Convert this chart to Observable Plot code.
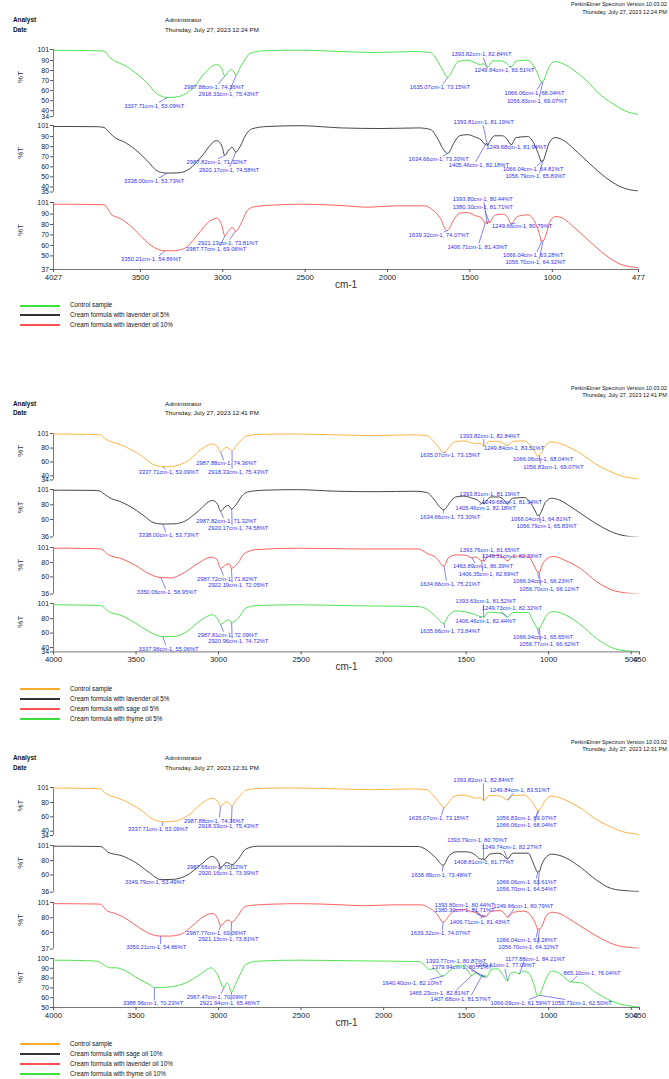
<!DOCTYPE html>
<html><head><meta charset="utf-8">
<script src="https://cdn.jsdelivr.net/npm/d3@7"></script>
<script src="https://cdn.jsdelivr.net/npm/@observablehq/plot@0.6"></script>
<style>
body{margin:0;background:#fff;}
#page{position:relative;width:669px;height:1079px;overflow:hidden;font-family:"Liberation Sans",Arial,sans-serif;color:#111;background:#fff;}
.t{position:absolute;white-space:nowrap;line-height:1;}
.pan{position:absolute;left:0;}
.lg{position:absolute;height:2px;}
</style></head><body><div id="page"></div>
<script>
// ================= DATA (wavenumber cm-1, %T) =================
const controlSample = [[4027,100.2],[3900,100.1],[3780,99.8],[3720,99.3],[3685,93],[3650,89],[3602,85.7],[3532,78],[3461,68],[3402,57.2],[3366,54],[3337.71,53.09],[3296,53.4],[3237,55.9],[3178,63],[3107,78],[3036,86],[3005,81.5],[2987.88,74.36],[2965,79.5],[2947,81],[2918.33,75.43],[2895,83],[2859,92.4],[2836,97],[2753,99.7],[2541,100.3],[2400,99.8],[2281,99],[2069,98],[1833,99],[1739,98],[1704,91.4],[1668,81.4],[1635.07,73.15],[1602,81.4],[1574,88.7],[1515,90.4],[1479,88.5],[1437,86],[1415,87],[1393.82,82.84],[1361,89.7],[1314,89.7],[1280,87.5],[1249.84,83.51],[1220,89.5],[1149,90.4],[1114,84.7],[1083,74.8],[1066.06,68.04],[1060,69.5],[1056.83,69.07],[1045,73],[1026,81.4],[984,89],[937,87],[866,79.8],[795,70.5],[724,58.2],[630,46.6],[536,38.3],[477,36.2],[450,35]];
const lavender5 = [[4027,100],[3900,100],[3760,99.8],[3720,99],[3685,93.5],[3650,88.5],[3602,85],[3532,77.3],[3461,66.5],[3390,55.3],[3338.00,53.73],[3272,54],[3201,58],[3131,69.9],[3036,86],[3005,80.5],[2987.82,71.32],[2962,77],[2942,79.3],[2920.17,74.58],[2895,80],[2859,92],[2824,97.6],[2730,100],[2517,100.8],[2400,99.8],[2281,98.6],[2045,98],[1810,98.6],[1739,97],[1692,86.8],[1660,77],[1634.66,73.30],[1598,83.4],[1563,90.8],[1515,91.9],[1468,89.5],[1433,86.8],[1405.46,82.18],[1400,83.5],[1393.81,81.19],[1380,85],[1350,90.8],[1303,90.8],[1275,87.5],[1249.68,81.94],[1220,89],[1149,90],[1107,81.7],[1078,69.9],[1066.04,64.81],[1061,66.5],[1056.79,65.83],[1043,71.6],[1020,83.4],[984,89],[937,86.8],[866,77.3],[772,63],[677,49.5],[583,40],[477,36],[450,35.8]];
const lavender10 = [[4027,99.4],[3900,99.3],[3760,99],[3720,98.8],[3673,89.2],[3626,86],[3555,78],[3484,66.8],[3414,57.8],[3350.21,54.86],[3296,54.9],[3225,57.8],[3154,70],[3083,82.8],[3036,86],[3005,79],[2987.77,69.06],[2960,75],[2942,77],[2921.13,73.81],[2883,82.8],[2848,94],[2800,97.2],[2659,98.8],[2517,99.4],[2281,98.1],[2116,96.5],[1951,97.8],[1774,97.8],[1727,94],[1680,86],[1639.32,74.07],[1598,84.4],[1563,90.8],[1515,91.4],[1468,88.5],[1433,86.6],[1406.71,81.43],[1400,83],[1393.80,80.44],[1387,83],[1380.30,81.71],[1360,87],[1342,89.2],[1295,89.8],[1272,87],[1249.66,80.79],[1212,87.6],[1149,89.2],[1102,81.2],[1074,68.4],[1066.04,63.28],[1061,65],[1056.70,64.32],[1038,70],[1015,82.8],[979,87.6],[937,86],[866,77],[772,63.6],[677,50.8],[583,41.8],[477,38.6],[450,38]];
const sage5 = [[4000,100],[3900,100],[3760,99.5],[3714,99],[3667,90.8],[3585,85.2],[3503,76],[3421,64.3],[3350.06,58.95],[3292,58.5],[3221,64.3],[3128,78.3],[3046,87.5],[3010,84.3],[2987.72,71.82],[2956,76.9],[2935,78.3],[2922.19,72.05],[2881,79.7],[2846,92],[2776,98],[2518,100],[2166,99],[1791,99],[1732,92.2],[1686,87.5],[1634.66,75.21],[1604,87.5],[1557,90.8],[1498,89.9],[1463.89,86.39],[1440,88],[1406.35,82.69],[1400,83.5],[1393.76,81.65],[1369,88.5],[1310,89.9],[1280,88],[1249.51,82.39],[1217,89],[1123,89],[1099,80.6],[1076,70],[1066.04,66.23],[1061,67],[1056.70,66.11],[1045,73.6],[1017,84.3],[970,88.5],[900,82.9],[806,71.3],[712,53.7],[619,42],[525,37.4],[450,36]];
const thyme5 = [[4000,99.2],[3900,99],[3760,98.6],[3714,98.2],[3667,90],[3585,84],[3503,73.7],[3421,62.2],[3337.98,55.06],[3268,55.3],[3198,61.3],[3104,78.4],[3039,85.3],[3005,79.7],[2987.81,72.09],[2955,77],[2940,78.4],[2920.96,74.72],[2881,80.7],[2835,94.5],[2764,98.2],[2518,99.2],[2166,97.8],[1791,96.8],[1732,92.2],[1686,83],[1635.66,73.84],[1604,85.3],[1557,90.8],[1498,89],[1451,86.2],[1406.46,82.44],[1400,83.5],[1393.63,81.52],[1369,89],[1310,88.5],[1280,87],[1249.73,82.32],[1217,88.5],[1123,88.5],[1099,78.4],[1078,70],[1066.04,65.65],[1061,67],[1056.77,66.62],[1041,72.4],[1012,85.3],[970,89.9],[900,85.3],[806,71.4],[712,53],[619,40],[525,35.4],[450,34.5]];
const sage10 = [[4000,100],[3900,100],[3760,99.7],[3714,99.5],[3667,91.3],[3585,86.6],[3503,77.3],[3421,63.4],[3349.79,53.49],[3280,53.8],[3198,58.8],[3104,75],[3039,85.7],[3000,77.3],[2987.66,70.12],[2952,77.3],[2935,76],[2920.16,73.99],[2881,82],[2835,96],[2764,100],[2283,100],[1791,99.6],[1732,93.6],[1686,84.3],[1638.89,73.48],[1604,86.6],[1557,92.2],[1498,92.2],[1451,89],[1408.81,81.77],[1401,83],[1393.79,80.70],[1357,89],[1310,90.3],[1280,88.5],[1249.74,82.27],[1217,90.3],[1123,90.3],[1099,79.6],[1078,68],[1066.06,63.61],[1061,65],[1056.70,64.54],[1045,72.7],[1012,85.7],[982,89],[900,84.3],[806,70.4],[712,53.2],[619,41],[525,37.9],[450,37]];
const thyme10 = [[4000,98.3],[3850,98],[3737,97.3],[3690,92.9],[3655,90.5],[3620,90.5],[3573,88.1],[3479,78.6],[3409,72.5],[3388.96,70.23],[3292,71],[3198,75.2],[3104,84.7],[3046,90.5],[3010,84.7],[2967.47,70.09],[2952,75.2],[2940,73.5],[2921.94,65.46],[2898,73.5],[2870,83.7],[2835,93.9],[2764,97.3],[2518,98.3],[2166,97.6],[1791,96.9],[1756,93.9],[1721,88.8],[1698,89.5],[1640.40,82.10],[1604,87.1],[1557,92.9],[1510,91.5],[1465.23,82.81],[1440,85.4],[1407.68,81.57],[1400,83.5],[1393.77,80.87],[1386,83],[1379.94,80.71],[1346,88.8],[1310,89.5],[1280,83.7],[1249.61,77.09],[1234,84.7],[1204,86.1],[1177.88,84.21],[1157,87.1],[1123,85.4],[1093,75.2],[1066.09,61.59],[1061,63],[1056.73,62.50],[1045,66.7],[1018,78.6],[982,87.1],[947,86.1],[865.10,76.04],[806,75.2],[712,65],[619,56.5],[525,52],[450,50.5]];

// labelled peaks (wavenumber, %T)
const controlPeaks = [[3337.71,53.09],[2987.88,74.36],[2918.33,75.43],[1635.07,73.15],[1393.82,82.84],[1249.84,83.51],[1066.06,68.04],[1056.83,69.07]];
const lavender5Peaks = [[3338.00,53.73],[2987.82,71.32],[2920.17,74.58],[1634.66,73.30],[1405.46,82.18],[1393.81,81.19],[1249.68,81.94],[1066.04,64.81],[1056.79,65.83]];
const lavender10Peaks = [[3350.21,54.86],[2987.77,69.06],[2921.13,73.81],[1639.32,74.07],[1406.71,81.43],[1393.80,80.44],[1380.30,81.71],[1249.66,80.79],[1066.04,63.28],[1056.70,64.32]];
const sage5Peaks = [[3350.06,58.95],[2987.72,71.82],[2922.19,72.05],[1634.66,75.21],[1463.89,86.39],[1406.35,82.69],[1393.76,81.65],[1249.51,82.39],[1066.04,66.23],[1056.70,66.11]];
const thyme5Peaks = [[3337.98,55.06],[2987.81,72.09],[2920.96,74.72],[1635.66,73.84],[1406.46,82.44],[1393.63,81.52],[1249.73,82.32],[1066.04,65.65],[1056.77,66.62]];
const sage10Peaks = [[3349.79,53.49],[2987.66,70.12],[2920.16,73.99],[1638.89,73.48],[1408.81,81.77],[1393.79,80.70],[1249.74,82.27],[1066.06,63.61],[1056.70,64.54]];
const thyme10Peaks = [[3388.96,70.23],[2967.47,70.09],[2921.94,65.46],[1640.40,82.10],[1465.23,82.81],[1407.68,81.57],[1393.77,80.87],[1379.94,80.71],[1249.61,77.09],[1177.88,84.21],[1066.09,61.59],[1056.73,62.50],[865.10,76.04]];

// axis ticks
const xTicks1 = [4027,3500,3000,2500,2000,1500,1000,477];
const xTicks23 = [4000,3500,3000,2500,2000,1500,1000,500,450];
const legend1 = ["Control sample","Cream formula with lavender oil 5%","Cream formula with lavender oil 10%"];
const legend2 = ["Control sample","Cream formula with lavender oil 5%","Cream formula with sage oil 5%","Cream formula with thyme oil 5%"];
const legend3 = ["Control sample","Cream formula with sage oil 10%","Cream formula with lavender oil 10%","Cream formula with thyme oil 10%"];

// ================= LAYOUT (label placement: label x, label %T, leader end x) =================
const L = {
  f1p1: [[3416,44.9,3387],[3053,63.2,3028],[2965,56.6,2958],[1682,63.2,1664],[1430,96.3,1420],[1290,80.5,1262],[1108,57.3,1093],[1093,50,1078]],
  f1p2: [[3416,45.6,3387],[3037,64.8,3028],[2962,56.7,2958],[1690,67.5,1664],[1446,61.5,1466],[1417,104.6,1420],[1218,79.6,1240],[1117,57.5,1093],[1102,50.8,1078]],
  f1p3: [[3434,46.9,3387],[3040,56.4,3016],[2969,62.5,2958],[1688,69.5,1660],[1454,58.7,1446],[1422,104.3,1415],[1422,96.2,1410],[1183,78,1225],[1117,50.7,1093],[1102,43.6,1078]],
  f2p1: [[3303,45,3320],[2952,58,2970],[2881,46,2918],[1597,69.9,1625],[1358,97.6,1393],[1210,79.5,1255],[1034,64.1,1062],[972,53.1,1050]],
  f2p2: [[3303,38.5,3320],[2952,57.6,2970],[2881,47.6,2918],[1597,63.6,1640],[1382,75,1420],[1358,94.2,1393],[1223,84,1250],[1047,60.9,1066],[1012,50.8,1050]],
  f2p3: [[3314,38.8,3320],[2948,57.3,2970],[2881,48,2918],[1597,50.4,1620],[1398,74.5,1445],[1363,63.3,1400],[1358,96.8,1393],[1223,88.5,1250],[1034,53.6,1062],[997,43.4,1050]],
  f2p4: [[3303,38.5,3320],[2946,57.5,2970],[2881,48.4,2918],[1597,63.1,1630],[1382,77,1420],[1382,103.8,1395],[1223,94.5,1290],[1034,54,1062],[997,44.7,1050]],
  f3p1: [[3366,42.7,3340],[3027,54.4,2995],[2940,47.4,2922],[1667,57.6,1650],[1396,111.3,1396],[1175,97.8,1215],[1135,48.3,1085],[1135,57.6,1075]],
  f3p2: [[3385,50.5,3355],[3010,70.4,2995],[2940,62.4,2925],[1651,60.2,1645],[1393,77.3,1405],[1433,108.9,1396],[1223,98.2,1270],[1135,50.5,1075],[1135,40.2,1065]],
  f3p3: [[3378,39.5,3352],[3014,58.4,2998],[2940,50.2,2925],[1655,58.4,1645],[1418,74.1,1410],[1510,97.4,1460],[1510,90,1440],[1154,96.5,1210],[1135,48.8,1075],[1123,39.7,1065]],
  f3p4: [[3397,54.1,3389],[3010,60.9,2985],[2933,54.1,2925],[1826,75.2,1720],[1663,64.3,1560],[1534,58.9,1470],[1562,97.3,1510],[1527,91.5,1470],[1264,92.9,1265],[1082,99.7,1150],[1170,54.8,1120],[800,54.8,900],[737,85.4,830]]
};

const GREEN = "#3ee03e", ORANGE = "#ffac2e", RED = "#ff4f4f", BLACK = "#333333", BLUE = "#3030f0";
const FONT = '"Liberation Sans", Arial, sans-serif';
const page = document.getElementById("page");

function txt(s, x, yc, size, opts = {}) {
  const d = document.createElement("div");
  d.className = "t";
  d.textContent = s;
  d.style.fontSize = size + "px";
  d.style.top = (yc - size / 2) + "px";
  if (opts.right != null) d.style.right = opts.right + "px"; else d.style.left = x + "px";
  if (opts.bold) d.style.fontWeight = "bold";
  page.appendChild(d);
}

function header(off, time) {
  txt("PerkinElmer Spectrum Version 10.03.02", 0, off + 5, 5.4, {right: 2});
  txt("Thursday, July 27, 2023 " + time, 0, off + 12.3, 5.6, {right: 2});
  txt("Analyst", 13, off + 20.5, 6.4, {bold: true});
  txt("Date", 13, off + 30, 6.4, {bold: true});
  txt("Administrator", 165, off + 20.5, 6.2);
  txt("Thursday, July 27, 2023 " + time, 165, off + 30, 6.2);
}

function legend(y0, names, colors) {
  names.forEach((n, i) => {
    const y = y0 + i * 9.9;
    const l = document.createElement("div");
    l.className = "lg";
    l.style.left = "20px"; l.style.width = "40px"; l.style.top = Math.round(y - 1) + "px";
    l.style.background = colors[i];
    page.appendChild(l);
    txt(n, 70, y, 6.3);
  });
}

function panel(s) {
  const mt = 4, mb = s.last ? 30 : 4;
  const h = s.bottom - s.top;
  const k = h / (s.yDomain[1] - s.yDomain[0]);
  const ann = s.peaks.map((p, i) => {
    const [lx, lT, ex] = s.labels[i];
    const below = lT < p[1];
    return {x: p[0], y: p[1], lx, lT, ex, eT: below ? lT + 3.3 / k : lT - 3.3 / k,
            text: `${p[0].toFixed(2)}cm-1, ${p[1].toFixed(2)}%T`};
  });
  const marks = [
    Plot.ruleX([s.xDomain[0]], {stroke: "#555", strokeWidth: 0.8}),
    Plot.axisY({ticks: s.yTicks, tickFormat: d => String(d), tickSize: 3, tickPadding: 1.5, fontSize: 7, label: null, stroke: "#555"}),
    Plot.text(["%T"], {frameAnchor: "left", dx: -33, rotate: -90, fontSize: 8, text: d => d, fill: "#333"}),
    Plot.line(s.series, {x: d => d[0], y: d => d[1], stroke: s.color, strokeWidth: 0.9, curve: "monotone-x", clip: true}),
    Plot.link(ann, {x1: "x", y1: "y", x2: "ex", y2: "eT", stroke: BLUE, strokeWidth: 0.6}),
    Plot.text(ann, {x: "lx", y: "lT", text: "text", fill: BLUE, fontSize: 5.8})
  ];
  if (s.last) {
    marks.push(Plot.ruleY([s.yDomain[0]], {stroke: "#555", strokeWidth: 0.8}));
    marks.push(Plot.axisX({ticks: s.xTicks, tickFormat: d => String(d), tickSize: 3, tickPadding: 1.5, fontSize: 7.8, label: null, stroke: "#555"}));
    marks.push(Plot.text(["cm-1"], {frameAnchor: "bottom", dy: 18, fontSize: 10, text: d => d, fill: "#333"}));
  }
  const svg = Plot.plot({
    width: 669, height: h + mt + mb,
    marginTop: mt, marginBottom: mb, marginLeft: 53, marginRight: s.mr,
    x: s.last ? {domain: s.xDomain} : {domain: s.xDomain, axis: null},
    y: {domain: s.yDomain},
    style: {background: "transparent", overflow: "visible", fontFamily: FONT, color: "#222"},
    marks
  });
  const wrap = document.createElement("div");
  wrap.className = "pan";
  wrap.style.top = (s.top - mt) + "px";
  wrap.appendChild(svg);
  page.appendChild(wrap);
}

// ----- Figure 1 -----
header(0, "12:24 PM");
const X1 = {xDomain: [4027, 477], xTicks: xTicks1, mr: 31};
panel({...X1, series: controlSample, peaks: controlPeaks, labels: L.f1p1, color: GREEN, yDomain: [34, 101], yTicks: [101,90,80,70,60,50,40,34], top: 49.3, bottom: 116.5});
panel({...X1, series: lavender5, peaks: lavender5Peaks, labels: L.f1p2, color: BLACK, yDomain: [35, 101], yTicks: [101,90,80,70,60,50,40,35], top: 125, bottom: 191.5});
panel({...X1, series: lavender10, peaks: lavender10Peaks, labels: L.f1p3, color: RED, yDomain: [37, 101], yTicks: [101,90,80,70,60,50,37], top: 201.5, bottom: 268.5, last: true});
legend(305.5, legend1, [GREEN, BLACK, RED]);

// ----- Figure 2 -----
header(383.5, "12:41 PM");
const X2 = {xDomain: [4000, 450], xTicks: xTicks23, mr: 30};
panel({...X2, series: controlSample, peaks: controlPeaks, labels: L.f2p1, color: ORANGE, yDomain: [34, 101], yTicks: [101,80,60,40,34], top: 432.5, bottom: 479});
panel({...X2, series: lavender5, peaks: lavender5Peaks, labels: L.f2p2, color: BLACK, yDomain: [36, 101], yTicks: [101,80,60,36], top: 489, bottom: 536.5});
panel({...X2, series: sage5, peaks: sage5Peaks, labels: L.f2p3, color: RED, yDomain: [36, 101], yTicks: [101,80,60,36], top: 546.7, bottom: 593.3});
panel({...X2, series: thyme5, peaks: thyme5Peaks, labels: L.f2p4, color: GREEN, yDomain: [34, 101], yTicks: [101,80,60,40,34], top: 603.3, bottom: 651.7, last: true});
legend(689.3, legend2, [ORANGE, BLACK, RED, GREEN]);

// ----- Figure 3 -----
header(737.8, "12:31 PM");
panel({...X2, series: controlSample, peaks: controlPeaks, labels: L.f3p1, color: ORANGE, yDomain: [34, 101], yTicks: [101,80,60,40,34], top: 787, bottom: 835});
panel({...X2, series: sage10, peaks: sage10Peaks, labels: L.f3p2, color: BLACK, yDomain: [36, 101], yTicks: [101,80,60,36], top: 845, bottom: 891.7});
panel({...X2, series: lavender10, peaks: lavender10Peaks, labels: L.f3p3, color: RED, yDomain: [37, 101], yTicks: [101,80,60,37], top: 901.7, bottom: 948.3});
panel({...X2, series: thyme10, peaks: thyme10Peaks, labels: L.f3p4, color: GREEN, yDomain: [50, 100], yTicks: [100,90,80,70,60,50], top: 957.7, bottom: 1006.7, last: true});
legend(1044, legend3, [ORANGE, BLACK, RED, GREEN]);
</script></body></html>
